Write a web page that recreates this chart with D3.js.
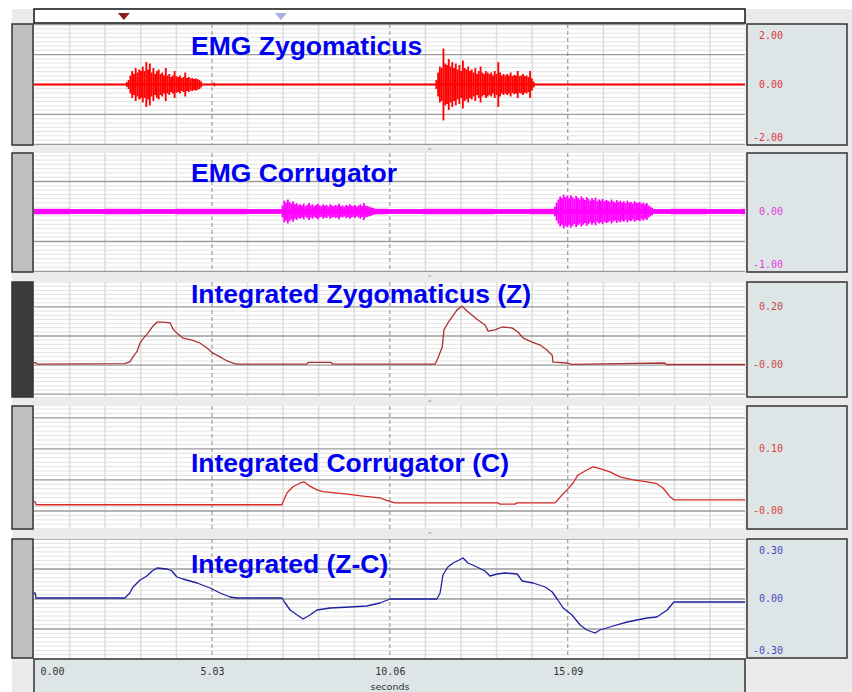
<!DOCTYPE html>
<html>
<head>
<meta charset="utf-8">
<script src="https://cdn.jsdelivr.net/npm/d3@7"></script>
<style>
  body { margin: 0; background: #fff; }
  svg { display: block; }
</style>
</head>
<body>
<svg></svg>
<script>
// ---- data ----
var timeTicks = [0, 5.03, 10.06, 15.09];
var timeTickLabels = ["0.00", "5.03", "10.06", "15.09"];
var markerTimes = [2.54, 6.98];
var markerColors = ["#8e1c1c", "#a9aee6"];

var titles = ["EMG Zygomaticus", "EMG Corrugator", "Integrated Zygomaticus (Z)",
              "Integrated Corrugator (C)", "Integrated (Z-C)"];

var zygTicks = [2, 0, -2], zygTickLabels = ["2.00", "0.00", "-2.00"];
var corrTicks = [0, -1], corrTickLabels = ["0.00", "-1.00"];
var intZTicks = [0.2, 0], intZTickLabels = ["0.20", "-0.00"];
var intCTicks = [0.1, 0], intCTickLabels = ["0.10", "-0.00"];
var diffTicks = [0.3, 0, -0.3], diffTickLabels = ["0.30", "0.00", "-0.30"];

// raw EMG: half range of the signal in 0.05 s bins
var binSize = 0.05;
var zygBurst1Start = 2.60;
var zygBurst1 = [0.08, 0.15, 0.30, 0.45, 0.35, 0.55, 0.40, 0.50, 0.45, 0.60,
                 0.45, 0.75, 0.50, 0.70, 0.40, 0.55, 0.35, 0.45, 0.50, 0.35,
                 0.40, 0.30, 0.55, 0.30, 0.35, 0.25, 0.30, 0.45, 0.28, 0.25,
                 0.30, 0.22, 0.25, 0.40, 0.22, 0.25, 0.20, 0.22, 0.18, 0.20,
                 0.18, 0.15, 0.10];
var zygBurst2Start = 11.35;
var zygBurst2 = [0.15, 0.40, 0.60, 0.55, 1.20, 0.70, 0.65, 0.85, 0.60, 0.75,
                 0.55, 0.70, 0.50, 0.65, 0.45, 0.80, 0.55, 0.50, 0.60, 0.45,
                 0.50, 0.40, 0.55, 0.35, 0.45, 0.60, 0.40, 0.35, 0.45, 0.40,
                 0.35, 0.40, 0.30, 0.45, 0.35, 0.75, 0.40, 0.30, 0.35, 0.30,
                 0.35, 0.30, 0.40, 0.28, 0.32, 0.30, 0.45, 0.28, 0.30, 0.35,
                 0.28, 0.30, 0.25, 0.45, 0.20, 0.10];
var zygBlipStart = 5.07;
var zygBlip = [0.06];
var corrBurst1Start = 7.00;
var corrBurst1 = [0.10, 0.18, 0.15, 0.20, 0.16, 0.13, 0.17, 0.12, 0.14, 0.11,
                  0.12, 0.10, 0.13, 0.09, 0.11, 0.14, 0.10, 0.12, 0.09, 0.11,
                  0.13, 0.10, 0.09, 0.12, 0.10, 0.11, 0.08, 0.12, 0.10, 0.09,
                  0.11, 0.10, 0.13, 0.09, 0.10, 0.08, 0.11, 0.09, 0.12, 0.10,
                  0.09, 0.11, 0.08, 0.10, 0.12, 0.09, 0.14, 0.10, 0.09, 0.08,
                  0.07, 0.06, 0.05];
var corrBurst2Start = 14.70;
var corrBurst2 = [0.08, 0.15, 0.20, 0.25, 0.22, 0.28, 0.24, 0.26, 0.22, 0.27,
                  0.24, 0.21, 0.26, 0.23, 0.20, 0.25, 0.22, 0.19, 0.24, 0.21,
                  0.18, 0.22, 0.19, 0.23, 0.17, 0.20, 0.18, 0.21, 0.17, 0.19,
                  0.18, 0.16, 0.20, 0.17, 0.15, 0.19, 0.16, 0.18, 0.15, 0.17,
                  0.14, 0.18, 0.15, 0.16, 0.13, 0.17, 0.15, 0.14, 0.16, 0.13,
                  0.15, 0.12, 0.14, 0.10, 0.08, 0.06];
// corrugator background noise, half range per 1 s
var corrNoise = [0.045, 0.04, 0.045, 0.04, 0.045, 0.045, 0.04, 0.045, 0.04, 0.045,
                 0.04, 0.045, 0.045, 0.04, 0.045, 0.04, 0.045, 0.04, 0.045, 0.04, 0.045];

// integrated channels
var intZTime = [0, 0.05, 0.1, 2.57, 2.71, 2.80, 2.91, 3.00, 3.08, 3.22, 3.34, 3.48, 3.65,
                3.85, 3.93, 4.04, 4.21, 4.47, 4.69, 4.89, 5.06, 5.26, 5.46,
                5.63, 5.74, 7.72, 7.75, 8.40, 8.43,
                11.34, 11.42, 11.54, 11.59, 11.70, 11.82, 11.96, 12.10, 12.24, 12.38,
                12.55, 12.75, 12.84, 13.03, 13.23, 13.51, 13.68, 13.83, 14.08, 14.31,
                14.50, 14.65, 14.67, 15.07, 15.21, 17.84, 17.87, 20.10];
var intZValue = [0.008, 0.008, 0.003, 0.005, 0.011, 0.029, 0.046, 0.077, 0.090, 0.110, 0.131, 0.148, 0.148,
                 0.145, 0.124, 0.110, 0.093, 0.086, 0.076, 0.059, 0.041, 0.028, 0.014,
                 0.007, 0.003, 0.003, 0.009, 0.009, 0.003,
                 0.003, 0.024, 0.062, 0.121, 0.145, 0.166, 0.190, 0.203, 0.186, 0.172,
                 0.155, 0.138, 0.117, 0.121, 0.131, 0.128, 0.114, 0.093, 0.079, 0.069,
                 0.052, 0.034, 0.010, 0.007, 0.002, 0.007, 0.002, 0.002];

var intCTime = [0, 0.03, 0.06, 7.01, 7.04, 7.15, 7.32, 7.52, 7.63, 7.80, 8.00, 8.17,
                8.85, 9.30, 9.78, 10.07, 10.21, 13.12, 13.17, 13.60, 13.66,
                14.73, 14.93, 15.07, 15.24, 15.38, 15.63, 15.80, 16.00,
                16.28, 16.56, 16.94, 17.33, 17.61, 17.78, 17.98, 18.09, 20.10];
var intCValue = [0.015, 0.015, 0.010, 0.010, 0.015, 0.029, 0.039, 0.045, 0.047, 0.040, 0.034, 0.031,
                 0.027, 0.024, 0.021, 0.015, 0.013, 0.013, 0.011, 0.011, 0.013,
                 0.013, 0.026, 0.034, 0.045, 0.058, 0.066, 0.071, 0.068,
                 0.063, 0.055, 0.050, 0.047, 0.044, 0.037, 0.023, 0.018, 0.018];

var diffTime = [0, 0.03, 0.06, 2.57, 2.71, 2.80, 3.00, 3.19, 3.34, 3.48, 3.76, 3.90, 4.04,
                4.21, 4.61, 4.98, 5.26, 5.54, 5.74, 7.01, 7.10, 7.24, 7.44,
                7.61, 7.80, 8.00, 8.37, 8.93, 9.41, 9.78, 10.07, 11.39, 11.48,
                11.56, 11.70, 11.85, 12.13, 12.27, 12.52, 12.75, 12.89, 13.09, 13.32,
                13.66, 13.80, 14.11, 14.45, 14.65, 14.79, 14.96, 15.21, 15.44, 15.63,
                15.86, 16.00, 16.37, 16.77, 17.33, 17.61, 17.90, 18.09, 20.10];
var diffValue = [0.030, 0.030, 0.005, 0.005, 0.030, 0.060, 0.095, 0.115, 0.140, 0.155, 0.150, 0.140, 0.110,
                 0.100, 0.080, 0.055, 0.030, 0.010, 0.005, 0.005, -0.020, -0.055, -0.080,
                 -0.100, -0.080, -0.055, -0.045, -0.040, -0.035, -0.020, 0.000, 0.000, 0.030,
                 0.120, 0.160, 0.180, 0.205, 0.180, 0.160, 0.140, 0.115, 0.125, 0.130,
                 0.125, 0.090, 0.080, 0.060, 0.035, 0.000, -0.045, -0.080, -0.130, -0.155,
                 -0.170, -0.155, -0.135, -0.115, -0.095, -0.090, -0.055, -0.015, -0.015];

// ---- layout ----
var width = 852, height = 692;
var plotL = 34, plotR = 745;
var minorStep = 5.03 / 5;

var svg = d3.select("svg").attr("width", width).attr("height", height);

var x = d3.scaleLinear().domain([0, 20.1]).range([plotL, plotR]);

svg.append("rect").attr("x", 12).attr("y", 9).attr("width", width - 12).attr("height", height - 9)
  .attr("fill", "#ebebeb");

var panels = [
  {top: 24, bottom: 145, lo: -2.02, hi: 2.02, step: 1, ticks: zygTicks, labels: zygTickLabels,
   labelColor: "#e03a3a", handle: "#c0c0c0", titleY: 55},
  {top: 153, bottom: 272, lo: -1.008, hi: 0.975, step: 0.5, ticks: corrTicks, labels: corrTickLabels,
   labelColor: "#e040e0", handle: "#c0c0c0", titleY: 182},
  {top: 282, bottom: 397, lo: -0.110, hi: 0.286, step: 0.1, ticks: intZTicks, labels: intZTickLabels,
   labelColor: "#c84848", handle: "#3c3c3c", titleY: 303},
  {top: 406, bottom: 529, lo: -0.029, hi: 0.169, step: 0.05, ticks: intCTicks, labels: intCTickLabels,
   labelColor: "#d84040", handle: "#c0c0c0", titleY: 472},
  {top: 539, bottom: 658, lo: -0.295, hi: 0.30, step: 0.15, ticks: diffTicks, labels: diffTickLabels,
   labelColor: "#4848c0", handle: "#c0c0c0", titleY: 573}
];

var defs = svg.append("defs");

panels.forEach(function(p, i) {
  p.y = d3.scaleLinear().domain([p.lo, p.hi]).range([p.bottom, p.top]);
  defs.append("clipPath").attr("id", "clip" + i)
    .append("rect").attr("x", plotL).attr("y", p.top)
    .attr("width", plotR - plotL).attr("height", p.bottom - p.top);

  var g = svg.append("g").attr("clip-path", "url(#clip" + i + ")");
  g.append("rect").attr("x", plotL).attr("y", p.top)
    .attr("width", plotR - plotL).attr("height", p.bottom - p.top).attr("fill", "#fff");

  // horizontal grid: 7 minor per major
  var sub = p.step / 7;
  var ks = d3.range(Math.ceil(p.lo / sub), Math.floor(p.hi / sub) + 1);
  g.selectAll(".hminor").data(ks.filter(function(k) { return k % 7 != 0; }))
    .enter().append("line")
      .attr("x1", plotL).attr("x2", plotR)
      .attr("y1", function(k) { return p.y(k * sub); })
      .attr("y2", function(k) { return p.y(k * sub); })
      .attr("stroke", "#e2e2e2").attr("stroke-width", 1);

  // vertical grid
  var vk = d3.range(1, 21).filter(function(k) { return k * minorStep < 20.1; });
  g.selectAll(".vminor").data(vk.filter(function(k) { return k % 5 != 0; }))
    .enter().append("line")
      .attr("x1", function(k) { return x(k * minorStep); })
      .attr("x2", function(k) { return x(k * minorStep); })
      .attr("y1", p.top).attr("y2", p.bottom)
      .attr("stroke", "#dedede").attr("stroke-width", 1.6);

  g.selectAll(".hmajor").data(ks.filter(function(k) { return k % 7 == 0; }))
    .enter().append("line")
      .attr("x1", plotL).attr("x2", plotR)
      .attr("y1", function(k) { return p.y(k * sub); })
      .attr("y2", function(k) { return p.y(k * sub); })
      .attr("stroke", "#9a9a9a").attr("stroke-width", 1.3);

  g.selectAll(".vmajor").data(vk.filter(function(k) { return k % 5 == 0; }))
    .enter().append("line")
      .attr("x1", function(k) { return x(k * minorStep); })
      .attr("x2", function(k) { return x(k * minorStep); })
      .attr("y1", p.top).attr("y2", p.bottom)
      .attr("stroke", "#8a8a8a").attr("stroke-width", 1)
      .attr("stroke-dasharray", "4,3");

  p.g = g;

  // left handle
  svg.append("rect").attr("x", 12).attr("y", p.top).attr("width", 21).attr("height", p.bottom - p.top)
    .attr("fill", p.handle).attr("stroke", "#333").attr("stroke-width", 1.5);

  // right value box
  svg.append("rect").attr("x", 747).attr("y", p.top).attr("width", 100).attr("height", p.bottom - p.top)
    .attr("fill", "#dde5e6").attr("stroke", "#333").attr("stroke-width", 1.5);

  var ax = svg.append("g").attr("transform", "translate(783,0)")
    .call(d3.axisRight(p.y).tickValues(p.ticks)
      .tickFormat(function(d, j) { return p.labels[j]; })
      .tickSize(0).tickPadding(0));
  ax.select(".domain").remove();
  ax.selectAll(".tick").attr("transform", function(d) {
    var yy = Math.max(p.top + 15, Math.min(p.bottom - 4, p.y(d) + 3));
    return "translate(0," + yy + ")";
  });
  ax.selectAll("text").attr("x", 0).attr("dy", null).attr("text-anchor", "end")
    .attr("fill", p.labelColor)
    .style("font-family", "'DejaVu Sans Mono', monospace").style("font-size", "10px");

  // resize grip between panels
  svg.append("path")
    .attr("d", "M428," + (p.bottom + 5) + "l2,-2l1,2")
    .attr("fill", "none").attr("stroke", "#999").attr("stroke-width", 0.8);
});

// ---- raw EMG ----
var binPx = x(binSize) - x(0);
function drawBurst(p, start, amps, color) {
  p.g.append("g").selectAll("line").data(amps).enter().append("line")
    .attr("x1", function(d, i) { return x(start + (i + 0.5) * binSize); })
    .attr("x2", function(d, i) { return x(start + (i + 0.5) * binSize); })
    .attr("y1", function(d) { return p.y(d); })
    .attr("y2", function(d) { return p.y(-d); })
    .attr("stroke", color).attr("stroke-width", binPx + 0.1);
}

var p0 = panels[0];
p0.g.append("line").attr("x1", x(0)).attr("x2", x(20.1))
  .attr("y1", p0.y(0)).attr("y2", p0.y(0))
  .attr("stroke", "#ff0000").attr("stroke-width", 2);
drawBurst(p0, zygBurst1Start, zygBurst1, "#ff0000");
drawBurst(p0, zygBurst2Start, zygBurst2, "#ff0000");
drawBurst(p0, zygBlipStart, zygBlip, "#ff0000");

var p1 = panels[1];
p1.g.append("g").selectAll("rect").data(corrNoise).enter().append("rect")
  .attr("x", function(d, i) { return x(i); })
  .attr("width", x(1) - x(0) + 0.5)
  .attr("y", function(d) { return p1.y(d); })
  .attr("height", function(d) { return p1.y(-d) - p1.y(d); })
  .attr("fill", "#ff00ff");
drawBurst(p1, corrBurst1Start, corrBurst1, "#ff00ff");
drawBurst(p1, corrBurst2Start, corrBurst2, "#ff00ff");

// ---- integrated traces ----
function drawTrace(p, times, values, color) {
  var line = d3.line()
    .x(function(d) { return x(d[0]); })
    .y(function(d) { return p.y(d[1]); });
  p.g.append("path")
    .datum(d3.zip(times, values))
    .attr("d", line)
    .attr("fill", "none").attr("stroke", color).attr("stroke-width", 1.3)
    .attr("stroke-linejoin", "round");
}
drawTrace(panels[2], intZTime, intZValue, "#a83232");
drawTrace(panels[3], intCTime, intCValue, "#d42a2a");
drawTrace(panels[4], diffTime, diffValue, "#1f1fa0");

// ---- titles ----
panels.forEach(function(p, i) {
  svg.append("text").attr("x", 191).attr("y", p.titleY)
    .text(titles[i])
    .attr("fill", "#0000f0")
    .style("font-family", "'Liberation Sans', Arial, sans-serif")
    .style("font-weight", "bold").style("font-size", "26.5px");
});

// ---- top marker bar ----
svg.append("rect").attr("x", plotL).attr("y", 9).attr("width", plotR - plotL).attr("height", 14)
  .attr("fill", "#fff").attr("stroke", "#111").attr("stroke-width", 1.5);
svg.selectAll(".marker").data(markerTimes).enter().append("path")
  .attr("d", function(d) { var mx = x(d); return "M" + (mx - 6) + ",13L" + (mx + 6) + ",13L" + mx + ",20Z"; })
  .attr("fill", function(d, i) { return markerColors[i]; });

// ---- time axis ----
svg.append("rect").attr("x", plotL).attr("y", 659).attr("width", plotR - plotL).attr("height", 40)
  .attr("fill", "#dde5e6").attr("stroke", "#333").attr("stroke-width", 1.5);
var xa = svg.append("g").attr("transform", "translate(0,675)")
  .call(d3.axisBottom(x).tickValues(timeTicks)
    .tickFormat(function(d, i) { return timeTickLabels[i]; })
    .tickSize(0).tickPadding(0));
xa.select(".domain").remove();
xa.selectAll("text").attr("y", 0).attr("dy", null).attr("fill", "#333")
  .style("font-family", "'DejaVu Sans Mono', monospace").style("font-size", "10px");
xa.selectAll("text").filter(function(d) { return d == 0; })
  .attr("text-anchor", "start").attr("x", 6);
svg.append("text").attr("x", 390).attr("y", 690).attr("text-anchor", "middle")
  .text("seconds").attr("fill", "#333")
  .style("font-family", "'DejaVu Sans', sans-serif").style("font-size", "9.5px");
</script>
</body>
</html>
